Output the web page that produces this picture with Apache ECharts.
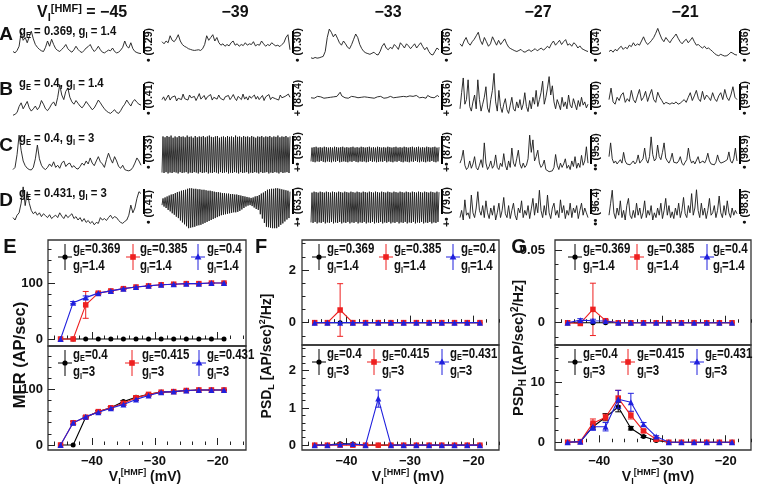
<!DOCTYPE html>
<html><head><meta charset="utf-8">
<script src="https://cdn.jsdelivr.net/npm/echarts@6/dist/echarts.min.js"></script>
<style>html,body{margin:0;padding:0;background:#fff}#c{width:757px;height:486px}</style>
</head><body><div id="c"></div>
<script>
const FONT = '"Liberation Sans", Arial, Helvetica, sans-serif';

// ---------------- DATA ----------------
const headerV = ['−45', '−39', '−33', '−27', '−21'];
const rowLetters = ['A', 'B', 'C', 'D'];
const rowGE = ['0.369', '0.4', '0.4', '0.431'];
const rowGI = ['1.4', '1.4', '3', '3'];
const scaleLabelsA = ['• (0.29)', '• (0.30)', '• (0.36)', '• (0.34)', '• (0.36)'];
const scaleLabelsB = ['• (0.41)', '+ (83.4)', '+ (93.6)', '• (98.0)', '• (99.1)'];
const scaleLabelsC = ['• (0.33)', '+• (59.8)', '+• (87.8)', '•• (95.8)', '• (98.9)'];
const scaleLabelsD = ['• (0.41)', '+• (63.5)', '+• (79.6)', '•• (96.4)', '• (98.8)'];

const traceA1 = [30,26,33,45,85,62,70,55,72,88,66,50,42,36,32,30,42,60,45,65,50,38,33,30,36,42,50,38,32,28,35,45,36,30,27,33,40,44,50,38,30,36,45,35,28,26,30,34,32,40,30,26,28,34,42,60,45,40,55,38,30,27,25,24];
const traceA2 = [58,52,60,55,75,62,58,66,78,60,50,45,42,38,36,34,33,34,35,33,38,50,75,62,70,78,60,70,55,48,52,45,50,46,55,60,48,52,45,50,47,55,48,52,50,58,46,50,48,60,52,45,50,47,55,50,46,48,44,50,55,70,78,35];
const traceA3 = [12,10,13,11,12,14,16,30,70,94,85,72,80,68,55,48,60,52,42,38,50,65,80,70,50,38,30,26,24,22,25,28,22,20,30,45,53,40,35,42,38,50,44,36,55,48,40,52,46,38,45,52,40,48,55,44,35,42,30,22,20,30,40,35];
const traceA4 = [52,45,60,70,55,48,58,65,75,85,62,50,70,58,45,52,72,60,48,62,50,58,66,52,42,38,35,32,30,33,36,30,28,32,35,30,34,38,32,36,40,34,38,45,40,52,60,48,55,62,50,58,64,48,52,45,55,50,40,46,38,35,32,30];
const traceA5 = [30,34,28,36,32,40,45,36,42,38,48,44,55,46,52,48,60,72,58,50,55,62,70,82,96,80,66,58,70,62,55,65,72,80,68,58,52,60,65,55,62,70,58,48,50,44,40,45,38,40,35,30,24,20,18,22,19,17,18,22,28,25,21,20];

const traceB1 = [6,8,12,25,33,20,28,36,22,15,20,26,18,24,38,30,20,16,22,30,35,26,45,72,50,40,58,65,45,35,30,38,32,26,22,28,36,30,24,18,22,30,39,33,26,20,15,12,10,14,18,12,10,16,24,30,39,32,26,36,40,34,30,28];
const traceB2 = [40,46,38,44,50,39,45,41,48,37,43,47,40,52,42,46,39,50,44,41,47,38,45,53,41,44,49,40,46,42,51,39,45,48,41,50,43,47,39,46,42,49,40,45,51,43,38,47,44,40,52,41,46,39,48,43,45,50,41,47,40,44,49,38,46,43,51,40,45,48,42,46,39,50,44,41,47,43,52,45];
const traceB3 = [44,46,43,45,47,44,46,45,43,46,44,47,45,43,46,48,47,50,56,48,45,44,46,43,45,47,44,46,45,44,47,45,43,46,44,45,47,44,46,43,45,46,44,47,45,43,46,44,45,47,46,44,48,45,43,46,45,47,44,46,43,48,45,47,44,49,46,44,48,45,47,43,49,46,45,48,44,47,49,46];
const traceB4 = [20,55,87,30,40,83,25,15,35,50,20,83,40,15,30,45,68,22,12,40,60,97,35,15,60,25,12,30,42,18,10,28,45,20,15,35,22,40,18,30,55,25,14,38,20,45,30,60,25,40,55,80,30,45,65,90,50,70,35,20,40,30,18,45,25,35,20,50,28,22,42,30,18,38,25,45,28,35,22,30];
const traceB5 = [40,65,35,30,45,38,50,55,34,42,36,60,40,33,48,62,38,45,58,36,50,62,40,34,56,45,38,30,34,32,30,33,31,35,30,32,36,40,34,45,55,38,48,60,42,36,58,40,50,45,38,55,42,36,48,55,40,62,45,38,50,68,45,40];

const traceC1 = [15,20,50,95,60,35,24,18,15,14,20,40,72,40,25,18,15,20,28,22,33,20,25,18,30,35,22,28,30,20,24,18,16,22,30,25,35,28,42,30,24,35,45,33,28,20,38,53,40,30,45,35,22,18,25,15,13,12,14,20,30,42,35,25];
const traceC2 = [8,92,7,90,9,93,6,91,8,94,7,89,9,92,8,90,6,93,9,91,7,92,8,90,9,94,6,91,8,92,7,89,9,93,8,90,6,92,9,91,7,93,8,90,9,92,6,94,8,91,7,90,9,92,8,93,6,89,9,91,7,92,8,90,9,93,6,91,8,92,7,90,9,94,8,91,6,92,9,90,7,93,8,91,9,92,6,90,8,93,7,91,9,89,8,92,6,91,9,93,7,90,8,92,9,91,6,93,8,90,7,92,9,91,8,94,6,90,9,92,7,91,8,93,9,90,7,92];
const traceC3 = [34,66,33,67,32,68,34,66,33,67,35,66,33,68,32,67,34,66,33,67,32,66,34,68,33,67,35,66,32,67,33,68,34,66,33,67,32,66,34,67,33,68,35,66,33,67,32,66,34,68,33,67,34,66,32,67,33,68,35,66,33,67,34,66,32,68,33,67,34,66,33,67,35,66,32,68,34,67,33,66,32,67,34,68,33,66,35,67,33,66,32,68,34,67,33,66,32,67,34,68,33,66,35,67,33,68,32,66,34,67,33,66,32,68,34,67,33,66,35,67,33,68,32,66,34,67];
const traceC4 = [30,40,60,25,15,20,35,18,28,45,20,14,25,38,20,77,30,15,22,35,18,25,49,20,15,30,22,52,25,14,35,20,65,30,22,40,60,28,18,30,20,25,40,95,55,84,35,45,60,30,20,25,37,15,12,10,9,12,20,50,25,15,30,20,28,40,18,25,15,35,22,45,18,30,20,48,25,35,68,30];
const traceC5 = [45,77,40,30,35,28,32,38,30,55,35,28,32,26,30,35,28,33,49,30,35,40,65,38,30,45,91,50,35,40,72,45,38,55,77,42,35,30,38,53,32,28,30,35,45,30,25,32,38,65,40,30,35,28,32,45,30,28,35,30,38,53,35,28,30,26,32,49,35,30,28,33,30,38,56,35,30,40,65,35];

const traceD1 = [30,25,35,40,60,94,55,84,60,45,38,42,35,40,32,38,34,30,36,28,32,35,30,40,33,28,36,30,34,38,28,32,25,30,22,28,20,24,18,22,15,20,18,30,25,28,24,30,35,28,32,30,24,20,18,22,25,35,56,40,50,70,84,80];
const traceD2 = [56,70,53,72,50,74,46,76,43,78,39,79,36,81,32,83,29,84,24,86,20,87,16,88,12,90,8,91,9,91,10,90,11,90,13,89,14,89,15,88,17,88,19,87,21,86,23,86,25,85,27,84,29,83,31,83,33,82,35,81,36,81,37,80,38,80,39,79,40,79,41,78,41,78,42,77,44,76,47,75,50,74,53,73,55,72,56,71,54,72,51,74,48,75,46,77,37,80,28,82,19,85,11,88,10,89,9,90,8,90,8,91,8,91,11,90,15,89,18,88,22,87,26,86,29,84];
const traceD3 = [20,82,19,84,21,83,18,82,20,84,19,83,21,82,18,84,20,83,19,82,21,84,18,83,20,82,19,84,21,83,18,82,20,84,19,83,21,82,18,84,20,83,19,82,21,84,18,83,20,82,19,84,21,83,18,82,20,84,19,83,21,82,18,84,20,83,19,82,21,84,18,83,20,82,19,84,21,83,18,82,20,84,19,83,21,82,18,84,20,83,19,82,21,84,18,83,20,82,19,84,21,83,18,82,20,84,19,83,21,82,18,84,20,83,19,82,21,84,18,83,20,82,19,84,21,83];
const traceD4 = [30,45,25,67,35,40,28,77,40,30,50,84,45,35,55,30,65,40,28,50,35,55,25,40,60,30,45,72,38,30,55,28,45,60,35,25,50,40,65,30,45,35,55,28,48,70,35,60,40,87,45,30,55,35,77,40,28,50,60,35,45,30,67,40,55,28,45,35,60,30,50,40,55,28,45,60,35,50,40,30];
const traceD5 = [35,60,87,40,28,50,35,65,30,45,25,55,70,35,28,45,30,60,35,50,28,40,65,30,45,35,55,25,40,30,50,35,60,28,45,70,35,55,30,42,28,50,35,60,30,45,72,38,30,55,40,80,35,50,88,45,30,60,35,50,28,45,70,35,40,55,30,45,75,40,30,55,35,65,40,30,50,35,45,38];

const vHMF = [-45,-43,-41,-39,-37,-35,-33,-31,-29,-27,-25,-23,-21,-19];
const xTickLabels = [-40, -30, -20];

const legendTopGE = ['0.369', '0.385', '0.4'];
const legendTopGI = ['1.4', '1.4', '1.4'];
const legendBotGE = ['0.4', '0.415', '0.431'];
const legendBotGI = ['3', '3', '3'];

const mfrTopBlack = [0,0,0,0,0,0,0,0,0,0,0,0,0,0];
const mfrTopRed   = [0,0,61,82,86,90,93,95,97,98,99,99,100,100];
const mfrTopBlue  = [0,65,74,82,86,90,93,95,97,98,99,99,100,100];
const mfrTopBlackErr = [0,0,0,0,0,0,0,0,0,0,0,0,0,0];
const mfrTopRedErr   = [0,0,24,1.5,1,1,1,0.5,0.5,0.5,0.5,0.5,0.5,0.5];
const mfrTopBlueErr  = [0,2,3,1.5,1,1,1,0.5,0.5,0.5,0.5,0.5,0.5,0.5];

const mfrBotBlack = [0,0,50,60,67,78,86,91,95,96,98,99,99,99];
const mfrBotRed   = [0,40,50,60,67,75,85,91,95,96,98,99,99,99];
const mfrBotBlue  = [0,40,51,59,66,73,82,89,95,96,98,99,99,99];
const mfrBotBlackErr = [0,0,1,2,2,2,2,1,1,0.5,0.5,0.5,0.5,0.5];
const mfrBotRedErr   = [0,2,2,2,2,2,2,1,1,0.5,0.5,0.5,0.5,0.5];
const mfrBotBlueErr  = [0,3,2,2,2,2,2,1,1,0.5,0.5,0.5,0.5,0.5];

const psdLTopBlack = [0,0,0,0,0,0,0,0,0,0,0,0,0,0];
const psdLTopRed   = [0,0,0.48,0,0,0,0,0,0,0,0,0,0,0];
const psdLTopBlue  = [0,0,0,0,0,0,0,0,0,0,0,0,0,0];
const psdLTopBlackErr = [0,0,0,0,0,0,0,0,0,0,0,0,0,0];
const psdLTopRedErr   = [0,0,1.0,0,0,0,0,0,0,0,0,0,0,0];
const psdLTopBlueErr  = [0,0,0,0,0,0,0,0,0,0,0,0,0,0];

const psdLBotBlack = [0,0,0.04,0.03,0,0,0,0,0,0,0,0,0,0];
const psdLBotRed   = [0,0,0,0,0,0,0,0,0,0,0,0,0,0];
const psdLBotBlue  = [0,0,0.02,0.03,0,1.25,0,0,0,0,0,0,0,0];
const psdLBotBlackErr = [0,0,0.02,0.02,0,0,0,0,0,0,0,0,0,0];
const psdLBotRedErr   = [0,0,0,0,0,0,0,0,0,0,0,0,0,0];
const psdLBotBlueErr  = [0,0,0.01,0.01,0,0.23,0,0,0,0,0,0,0,0];

const psdHTopBlack = [0,0,0,0,0,0,0,0,0,0,0,0,0,0];
const psdHTopRed   = [0,-0.0005,0.0092,0.0014,0,0,0,0,0,0,0,0,0,0];
const psdHTopBlue  = [0,0.0018,0.0014,0.0012,0,0,0,0,0,0,0,0,0,0];
const psdHTopBlackErr = [0,0,0,0,0,0,0,0,0,0,0,0,0,0];
const psdHTopRedErr   = [0,0,0.018,0.0005,0,0,0,0,0,0,0,0,0,0];
const psdHTopBlueErr  = [0,0.001,0.001,0.0008,0,0,0,0,0,0,0,0,0,0];

const psdHBotBlack = [0,0.1,2.6,4.2,5.9,2.35,0.95,0.3,0,0,0,0,0,0];
const psdHBotRed   = [0,0.1,3.2,4.2,7.4,4.5,1.9,0.5,0,0,0,0,0,0];
const psdHBotBlue  = [0,0.1,2.6,2.6,7.2,6.7,3.0,0.95,0,0,0,0,0,0];
const psdHBotBlackErr = [0,0,0.4,0.6,0.8,0.3,0.15,0.1,0,0,0,0,0,0];
const psdHBotRedErr   = [0,0,0.7,0.5,1.3,0.6,0.2,0.1,0,0,0,0,0,0];
const psdHBotBlueErr  = [0,0,0.6,0.7,1.5,1.5,0.3,0.15,0,0,0,0,0,0];

// ---------------- LAYOUT / STYLE ----------------
const COLORS = ['#000000', '#ee2020', '#2020dd'];
const SYMBOLS = ['circle', 'rect', 'triangle'];
const SYMSIZE = [5, 5.5, 6];
const INK = '#111';

function R(size, lh) {
  const sub = Math.round(size * 0.66);
  const base = {fontWeight: 'bold', fontFamily: FONT, fill: INK, color: INK};
  return {
    n: Object.assign({}, base, {fontSize: size, lineHeight: lh || size + 4}),
    s: Object.assign({}, base, {fontSize: sub, lineHeight: 4, verticalAlign: 'bottom'}),
    p: Object.assign({}, base, {fontSize: sub, lineHeight: 4, verticalAlign: 'top'})
  };
}
function txt(x, y, text, o) {
  o = o || {};
  const style = {text: text, fill: INK, fontFamily: FONT, fontWeight: 'bold', fontSize: o.size || 12,
    align: o.align || 'left', verticalAlign: o.va || 'middle'};
  if (o.rich) style.rich = o.rich;
  const el = {type: 'text', x: x, y: y, rotation: o.rot || 0, z: 100, silent: true, style: style};
  if (o.sx) el.scaleX = o.sx;
  return el;
}
function seg(x1, y1, x2, y2, color, w) {
  return {type: 'line', z: 100, silent: true, shape: {x1: x1, y1: y1, x2: x2, y2: y2}, style: {stroke: color, lineWidth: w}};
}
function ticks(min, max, step) {
  const out = [];
  for (let v = Math.ceil(min / step - 1e-9) * step; v <= max + 1e-9; v += step) out.push(Math.round(v / step) * step);
  return out.map(v => +v.toFixed(6));
}

const traces = [
  [traceA1, traceA2, traceA3, traceA4, traceA5],
  [traceB1, traceB2, traceB3, traceB4, traceB5],
  [traceC1, traceC2, traceC3, traceC4, traceC5],
  [traceD1, traceD2, traceD3, traceD4, traceD5]
];
const scaleLabels = [scaleLabelsA, scaleLabelsB, scaleLabelsC, scaleLabelsD];
const colLeft = [13, 162, 311, 460, 609];
const colW = 128;
const rowsLay = [
  {top: 27, h: 35, bar: [31, 53], lab: 45, letter: 35, par: 31},
  {top: 72, h: 46, bar: [84, 110], lab: 98, letter: 90, par: 83},
  {top: 133, h: 43, bar: [136, 164], lab: 152, letter: 146, par: 138},
  {top: 184, h: 48, bar: [189, 214], lab: 207, letter: 201, par: 193}
];

const grids = [], xAxes = [], yAxes = [], series = [], gfx = [];

// header
gfx.push(txt(37, 13, '{n|V}{s|I}{p|[HMF]}{n| = ' + headerV[0] + '}', {rich: R(16)}));
const headerX = [0, 235, 388, 538, 685];
for (let c = 1; c < 5; c++) gfx.push(txt(headerX[c], 13, headerV[c], {size: 16, align: 'center'}));

// traces
traces.forEach((row, r) => {
  const L = rowsLay[r];
  gfx.push(txt(6, L.letter, rowLetters[r], {size: 19, align: 'center'}));
  gfx.push(txt(19, L.par, '{n|g}{s|E}{n| = ' + rowGE[r] + ', }{n|g}{s|I}{n| = ' + rowGI[r] + '}', {rich: R(13.5), sx: 0.84}));
  row.forEach((tr, c) => {
    const gi = grids.length;
    grids.push({left: colLeft[c], top: L.top, width: colW, height: L.h, show: false});
    xAxes.push({type: 'category', gridIndex: gi, show: false, boundaryGap: false, data: tr.map((_, i) => i)});
    yAxes.push({type: 'value', gridIndex: gi, show: false, min: 0, max: 100});
    series.push({type: 'line', xAxisIndex: gi, yAxisIndex: gi, data: tr, symbol: 'none', silent: true,
      animation: false, lineStyle: {color: '#1a1a1a', width: 0.9}});
    const bx = colLeft[c] + 131;
    gfx.push(seg(bx, L.bar[0], bx, L.bar[1], '#000', 2));
    gfx.push(txt(bx + 5.5, L.lab, scaleLabels[r][c], {size: 10.5, align: 'center', rot: Math.PI / 2}));
  });
});

// bottom panels
const subpanels = [
  {left: 48, width: 198, top: 240, height: 106, xr: [-47, -15.5], yr: [-12.5, 177], major: [0, 100], minor: 20, margin: 5, xLab: false,
   ys: [mfrTopBlack, mfrTopRed, mfrTopBlue], es: [mfrTopBlackErr, mfrTopRedErr, mfrTopBlueErr],
   ge: legendTopGE, gi: legendTopGI, icons: [17, 85, 150], texts: [25, 92, 159]},
  {left: 48, width: 198, top: 346, height: 104, xr: [-47, -15.5], yr: [-9, 178], major: [0, 100], minor: 20, margin: 5, xLab: true,
   ys: [mfrBotBlack, mfrBotRed, mfrBotBlue], es: [mfrBotBlackErr, mfrBotRedErr, mfrBotBlueErr],
   ge: legendBotGE, gi: legendBotGI, icons: [17, 84, 151], texts: [25, 94, 159]},
  {left: 302, width: 197, top: 240, height: 105, xr: [-47, -16], yr: [-0.85, 3.14], major: [0, 2], minor: 0.5, margin: 6, xLab: false,
   ys: [psdLTopBlack, psdLTopRed, psdLTopBlue], es: [psdLTopBlackErr, psdLTopRedErr, psdLTopBlueErr],
   ge: legendTopGE, gi: legendTopGI, icons: [17, 84, 151], texts: [25, 92, 159]},
  {left: 302, width: 197, top: 345, height: 105, xr: [-47, -16], yr: [-0.13, 2.69], major: [0, 1, 2], minor: 0.2, margin: 6, xLab: true,
   ys: [psdLBotBlack, psdLBotRed, psdLBotBlue], es: [psdLBotBlackErr, psdLBotRedErr, psdLBotBlueErr],
   ge: legendBotGE, gi: legendBotGI, icons: [17, 72, 140], texts: [25, 80, 148]},
  {left: 555, width: 196, top: 240, height: 105, xr: [-47, -16], yr: [-0.0153, 0.0569], major: [0, 0.05], minor: 0.01, margin: 10, xLab: false,
   ys: [psdHTopBlack, psdHTopRed, psdHTopBlue], es: [psdHTopBlackErr, psdHTopRedErr, psdHTopBlueErr],
   ge: legendTopGE, gi: legendTopGI, icons: [20, 82, 152], texts: [28, 92, 158]},
  {left: 555, width: 196, top: 345, height: 105, xr: [-47, -16], yr: [-1.3, 16.3], major: [0, 10], minor: 2, margin: 10, xLab: true,
   ys: [psdHBotBlack, psdHBotRed, psdHBotBlue], es: [psdHBotBlackErr, psdHBotRedErr, psdHBotBlueErr],
   ge: legendBotGE, gi: legendBotGI, icons: [20, 73, 142], texts: [28, 82, 150]}
];

const labStyle = {color: INK, fontFamily: FONT, fontWeight: 'bold', fontSize: 13};
const tickLine = {color: '#222', width: 1};

function errRender(color) {
  return function (params, api) {
    const x = api.value(0), y = api.value(1), e = api.value(2);
    if (!e) return {type: 'group', children: []};
    const hi = api.coord([x, y + e]), lo = api.coord([x, y - e]);
    const st = {stroke: color, lineWidth: 1};
    return {type: 'group', children: [
      {type: 'line', shape: {x1: hi[0], y1: hi[1], x2: lo[0], y2: lo[1]}, style: st},
      {type: 'line', shape: {x1: hi[0] - 3, y1: hi[1], x2: hi[0] + 3, y2: hi[1]}, style: st},
      {type: 'line', shape: {x1: lo[0] - 3, y1: lo[1], x2: lo[0] + 3, y2: lo[1]}, style: st}
    ]};
  };
}

subpanels.forEach(p => {
  const gi = grids.length;
  grids.push({left: p.left, top: p.top, width: p.width, height: p.height, show: true,
    borderColor: '#333', borderWidth: 1.3, backgroundColor: 'transparent'});
  const xMain = xAxes.length;
  xAxes.push({type: 'value', gridIndex: gi, min: p.xr[0], max: p.xr[1], position: 'bottom',
    axisLine: {show: false}, splitLine: {show: false},
    axisTick: {show: true, inside: true, length: 7, customValues: xTickLabels, lineStyle: tickLine},
    axisLabel: {show: p.xLab, customValues: xTickLabels, margin: 5, formatter: v => String(v).replace('-', '−'), ...labStyle}});
  xAxes.push({type: 'value', gridIndex: gi, min: p.xr[0], max: p.xr[1], position: 'bottom',
    axisLine: {show: false}, splitLine: {show: false}, axisLabel: {show: false},
    axisTick: {show: true, inside: true, length: 3.5, customValues: ticks(p.xr[0], p.xr[1], 2), lineStyle: tickLine}});
  const yMain = yAxes.length;
  yAxes.push({type: 'value', gridIndex: gi, min: p.yr[0], max: p.yr[1], position: 'left',
    axisLine: {show: false}, splitLine: {show: false},
    axisTick: {show: true, inside: true, length: 7, customValues: p.major, lineStyle: tickLine},
    axisLabel: {show: true, customValues: p.major, margin: p.margin, ...labStyle}});
  yAxes.push({type: 'value', gridIndex: gi, min: p.yr[0], max: p.yr[1], position: 'left',
    axisLine: {show: false}, splitLine: {show: false}, axisLabel: {show: false},
    axisTick: {show: true, inside: true, length: 3.5, customValues: ticks(p.yr[0], p.yr[1], p.minor), lineStyle: tickLine}});

  for (let k = 0; k < 3; k++) {
    series.push({type: 'custom', xAxisIndex: xMain, yAxisIndex: yMain, z: 2 + k, silent: true, clip: true,
      renderItem: errRender(COLORS[k]), encode: {x: 0, y: 1},
      data: vHMF.map((v, i) => [v, p.ys[k][i], p.es[k][i]])});
    series.push({type: 'line', xAxisIndex: xMain, yAxisIndex: yMain, z: 3 + k, silent: true, animation: false,
      data: vHMF.map((v, i) => [v, p.ys[k][i]]), symbol: SYMBOLS[k], symbolSize: SYMSIZE[k], showSymbol: true,
      lineStyle: {color: COLORS[k], width: 1.1}, itemStyle: {color: COLORS[k]}});
    // legend
    const ix = p.left + p.icons[k], iy = p.top + 17;
    gfx.push(seg(ix, iy - 13, ix, iy + 13, COLORS[k], 1));
    gfx.push(seg(ix - 7, iy, ix + 7, iy, COLORS[k], 1));
    const sym = k === 0 ? {type: 'circle', shape: {cx: ix, cy: iy, r: 2.6}}
      : k === 1 ? {type: 'rect', shape: {x: ix - 2.8, y: iy - 2.8, width: 5.6, height: 5.6}}
      : {type: 'polygon', shape: {points: [[ix, iy - 3.6], [ix + 3.4, iy + 2.6], [ix - 3.4, iy + 2.6]]}};
    sym.style = {fill: COLORS[k]}; sym.z = 101; sym.silent = true;
    gfx.push(sym);
    gfx.push(txt(p.left + p.texts[k], p.top, '{n|g}{s|E}{n|=' + p.ge[k] + '}\n{n|g}{s|I}{n|=' + p.gi[k] + '}',
      {rich: R(14, 17.5), va: 'top', sx: 0.82}));
  }
});

// panel letters and titles
gfx.push(txt(10, 247, 'E', {size: 20, align: 'center'}));
gfx.push(txt(261, 247, 'F', {size: 20, align: 'center'}));
gfx.push(txt(519, 247, 'G', {size: 20, align: 'center'}));
gfx.push(txt(20, 355, 'MFR (AP/sec)', {size: 16.5, align: 'center', rot: Math.PI / 2}));
gfx.push(txt(267, 356, '{n|PSD}{s|L}{n| [AP/sec)}{p|2}{n|/Hz]}', {rich: R(14), align: 'center', rot: Math.PI / 2}));
gfx.push(txt(519, 348, '{n|PSD}{s|H}{n| [(AP/sec)}{p|2}{n|/Hz]}', {rich: R(14.5), align: 'center', rot: Math.PI / 2}));
[145, 408, 658].forEach(cx => gfx.push(txt(cx, 477, '{n|V}{s|I}{p|[HMF]}{n| (mV)}', {rich: R(14), align: 'center'})));

const chart = echarts.init(document.getElementById('c'), null, {renderer: 'canvas'});
chart.setOption({
  animation: false,
  backgroundColor: '#fff',
  grid: grids, xAxis: xAxes, yAxis: yAxes, series: series,
  graphic: {elements: gfx}
});
</script></body></html>
